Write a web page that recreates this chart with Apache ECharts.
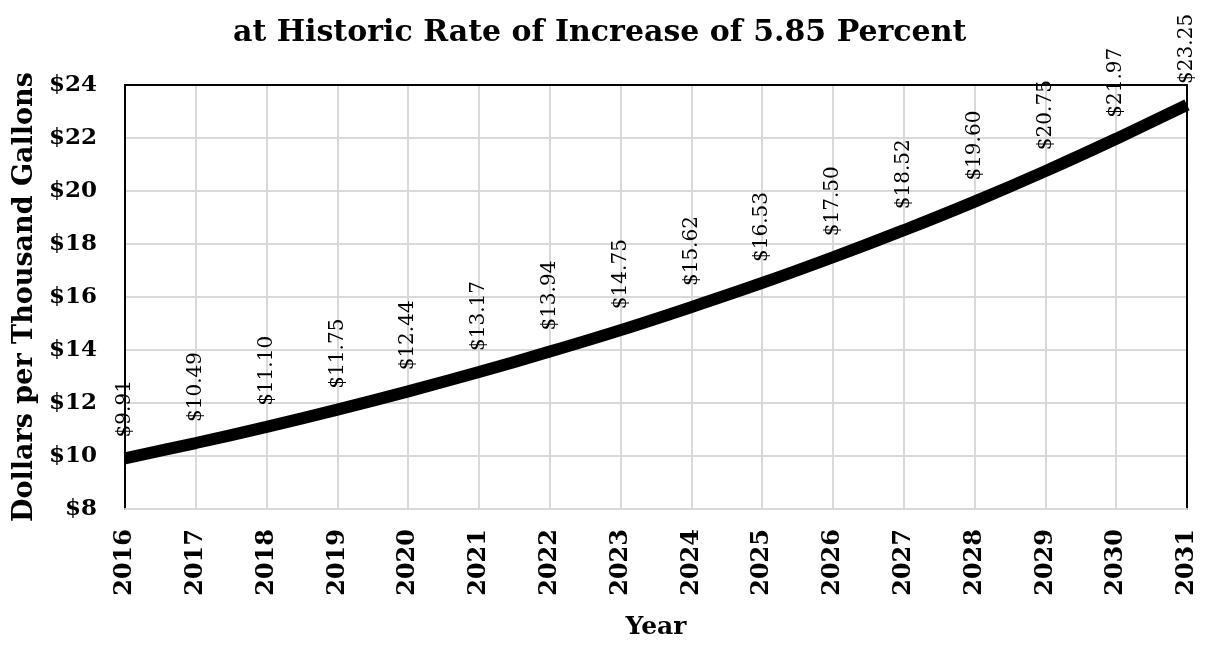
<!DOCTYPE html>
<html>
<head>
<meta charset="utf-8">
<script src="https://cdn.jsdelivr.net/npm/echarts@6/dist/echarts.min.js"></script>
<style>html,body{margin:0;padding:0;background:#fff;}#c{width:1209px;height:645px;}</style>
</head>
<body>
<div id="c"></div>
<script>
const years = ['2016','2017','2018','2019','2020','2021','2022','2023','2024','2025','2026','2027','2028','2029','2030','2031'];
const rates = [9.91, 10.49, 11.10, 11.75, 12.44, 13.17, 13.94, 14.75, 15.62, 16.53, 17.50, 18.52, 19.60, 20.75, 21.97, 23.25];
const titleText = 'at Historic Rate of Increase of 5.85 Percent';
const yAxisName = 'Dollars per Thousand Gallons';
const xAxisName = 'Year';

const serif = 'DejaVu Serif';
const chart = echarts.init(document.getElementById('c'));
chart.setOption({
  animation: false,
  backgroundColor: '#fff',
  title: {
    text: titleText,
    left: 228,
    top: 13,
    textStyle: { fontFamily: serif, fontWeight: 'bold', fontSize: 30, color: '#000' }
  },
  grid: { left: 125, right: 22, top: 85, bottom: 133 },
  xAxis: [{
    type: 'category',
    data: years,
    boundaryGap: false,
    name: xAxisName,
    nameLocation: 'middle',
    nameGap: 106,
    nameTextStyle: { fontFamily: serif, fontWeight: 'bold', fontSize: 25, color: '#000' },
    axisLine: { lineStyle: { color: '#d9d9d9', width: 2 } },
    axisTick: { show: false },
    axisLabel: { rotate: 90, margin: 20, fontFamily: serif, fontWeight: 'bold', fontSize: 24, color: '#000' },
    splitLine: { show: true, lineStyle: { color: '#d9d9d9', width: 2 } }
  }, {
    type: 'category',
    data: years,
    boundaryGap: false,
    position: 'top',
    axisLine: { show: true, lineStyle: { color: '#000', width: 2 } },
    axisTick: { show: false },
    axisLabel: { show: false },
    splitLine: { show: false }
  }],
  yAxis: [{
    type: 'value',
    min: 8, max: 24, interval: 2,
    name: yAxisName,
    nameLocation: 'middle',
    nameGap: 82,
    nameTextStyle: { fontFamily: serif, fontWeight: 'bold', fontSize: 27, color: '#000' },
    axisLine: { show: true, lineStyle: { color: '#000', width: 2 } },
    axisTick: { show: false },
    axisLabel: { margin: 28, formatter: '${value}', fontFamily: serif, fontWeight: 'bold', fontSize: 23, color: '#000' },
    splitLine: { show: true, lineStyle: { color: '#d9d9d9', width: 2 } }
  }, {
    type: 'value',
    min: 8, max: 24, interval: 2,
    position: 'right',
    axisLine: { show: true, lineStyle: { color: '#000', width: 2 } },
    axisTick: { show: false },
    axisLabel: { show: false },
    splitLine: { show: false }
  }],
  series: [{
    type: 'line',
    data: rates,
    smooth: 0.3,
    symbol: 'circle',
    symbolSize: 2,
    showSymbol: true,
    showAllSymbol: true,
    itemStyle: { color: 'rgba(0,0,0,0)', borderWidth: 0 },
    lineStyle: { color: '#000', width: 12 },
    z: 5,
    label: {
      show: true,
      position: 'top',
      distance: 20,
      rotate: 90,
      align: 'left',
      verticalAlign: 'middle',
      formatter: p => '$' + p.value.toFixed(2),
      fontFamily: serif,
      fontSize: 20,
      color: '#000'
    },
    labelLayout: { hideOverlap: false }
  }]
});
</script>
</body>
</html>
